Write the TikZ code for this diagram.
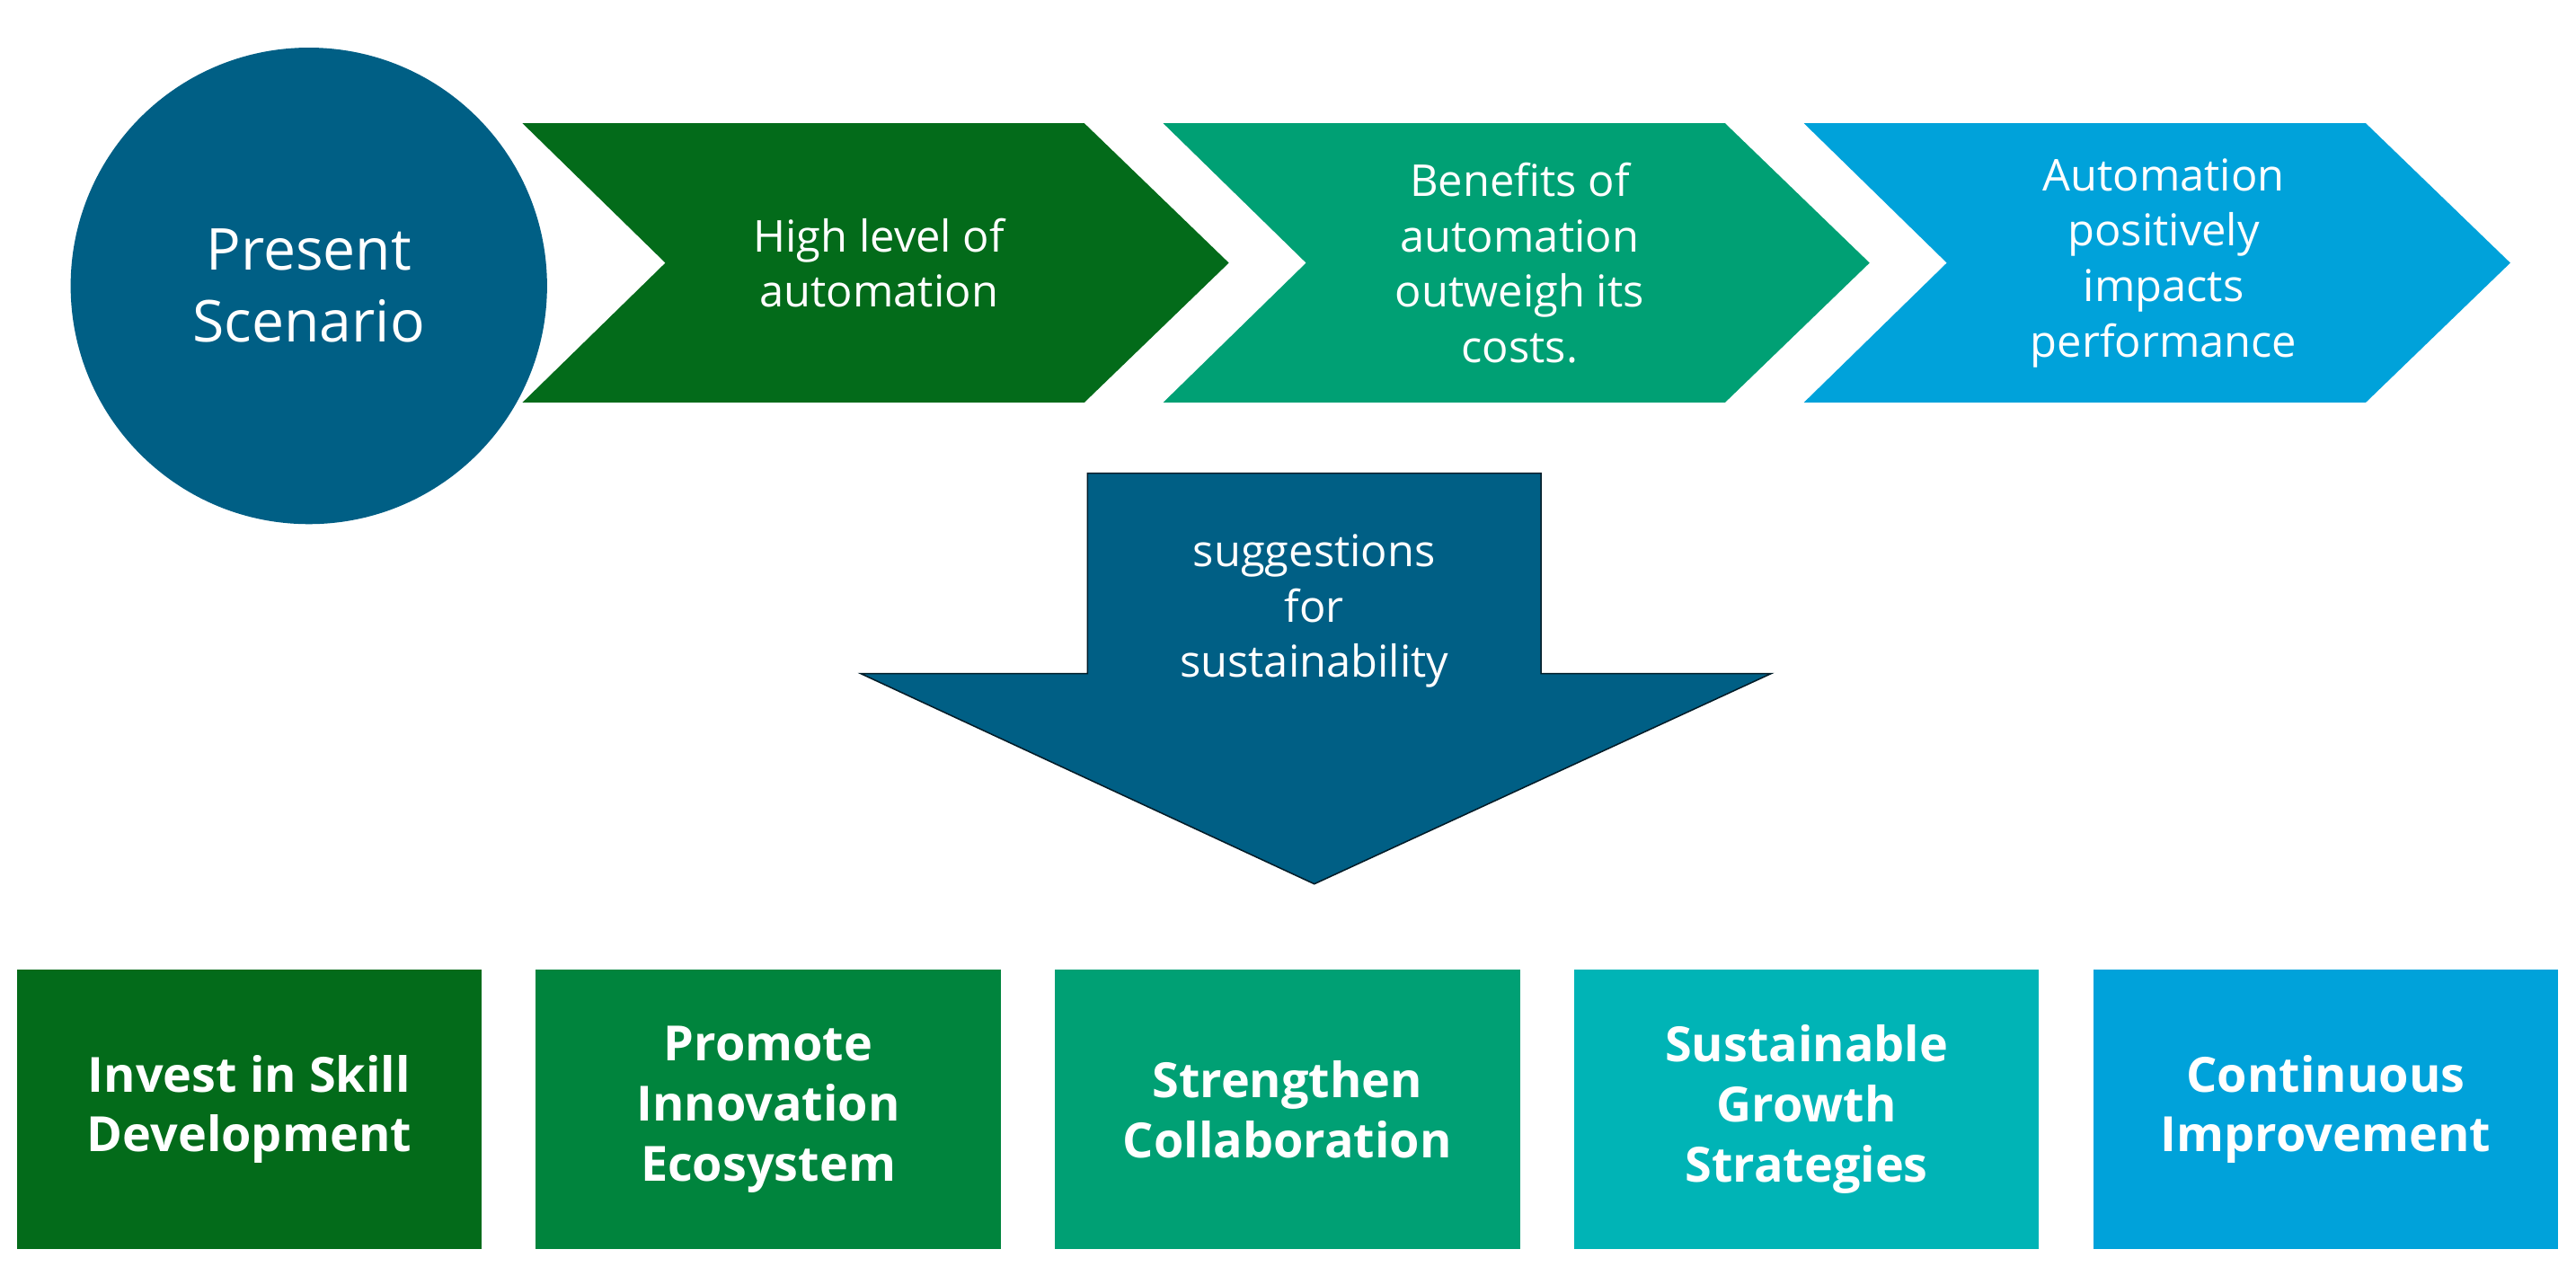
\documentclass[tikz,border=0pt]{standalone}
\usepackage{fontspec}
\setmainfont{Open Sans}
\begin{document}
\begin{tikzpicture}[x=0.5mm,y=-0.5mm,
 chev/.style={fill=#1,draw=none},
 ctext/.style={text=white,align=center,font=\fontsize{38}{48}\selectfont},
 box/.style={fill=#1,minimum width=141.5mm,minimum height=85mm,anchor=north west,inner sep=0pt},
 btext/.style={text=white,align=center,font=\bfseries\fontsize{42}{52}\selectfont}]
\definecolor{dg}{HTML}{036B1A}
\definecolor{mg}{HTML}{00843D}
\definecolor{tg}{HTML}{00A074}
\definecolor{tc}{HTML}{00B4B6}
\definecolor{bl}{HTML}{00A2DA}
\definecolor{nv}{HTML}{005F85}
\useasboundingbox (0,0) rectangle (1568,770.8);
\node[circle,fill=nv,minimum size=145mm,inner sep=0pt,text=white,align=center,font=\fontsize{50}{62}\selectfont] (ps) at (188,174) {Present\\Scenario};
\fill[dg] (318,75) -- (660,75) -- (748,160) -- (660,245) -- (318,245) -- (405,160) -- cycle;
\fill[tg] (708,75) -- (1050,75) -- (1138,160) -- (1050,245) -- (708,245) -- (795,160) -- cycle;
\fill[bl] (1098,75) -- (1440,75) -- (1528,160) -- (1440,245) -- (1098,245) -- (1185,160) -- cycle;
\node[ctext] (c1) at (535,160) {High level of\\automation};
\node[ctext] (c2) at (925,160) {Benefits of\\automation\\outweigh its\\costs.};
\node[ctext] (c3) at (1317,160) {Automation\\positively\\impacts\\performance};
\filldraw[fill=nv,draw=black!70!nv,line width=1.2pt] (662,288) -- (938,288) -- (938,410) -- (1078,410) -- (800,538) -- (524,410) -- (662,410) -- cycle;
\node[ctext] (sg) at (800,372) {suggestions\\for\\sustainability};
\node[box=dg] (b1) at (10,590) {}; \node[btext] at (b1) {Invest in Skill\\Development};
\node[box=mg] (b2) at (326,590) {}; \node[btext] at (b2) {Promote\\Innovation\\Ecosystem};
\node[box=tg] (b3) at (642,590) {}; \node[btext] at (b3) {Strengthen\\Collaboration};
\node[box=tc] (b4) at (958,590) {}; \node[btext] at (b4) {Sustainable\\Growth\\Strategies};
\node[box=bl] (b5) at (1274,590) {}; \node[btext] at (b5) {Continuous\\Improvement};
\end{tikzpicture}
\end{document}
